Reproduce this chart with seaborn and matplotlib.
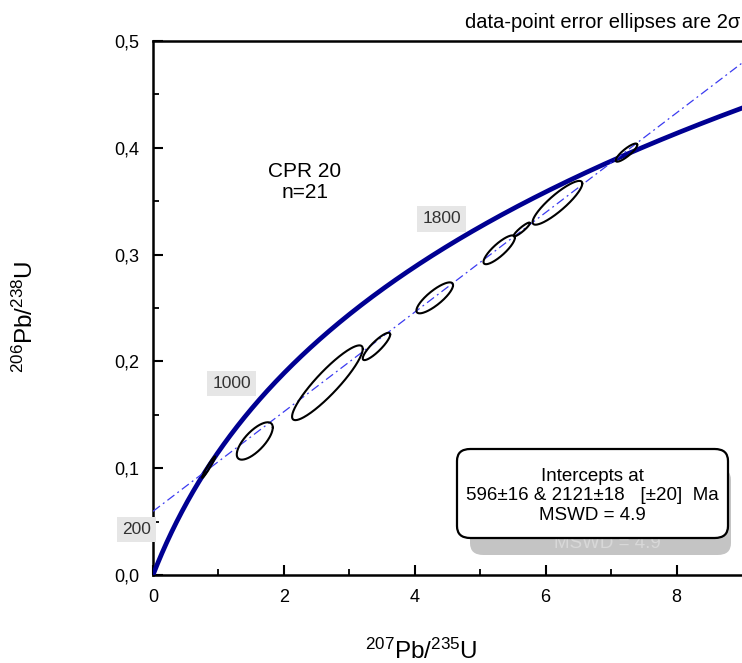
import numpy as np
import pandas as pd
import matplotlib
matplotlib.use("Agg")
import matplotlib.pyplot as plt
import seaborn as sns
from matplotlib.patches import FancyBboxPatch

# ---------------- data ----------------
# analyses: 207Pb/235U, 2s error, 206Pb/238U, 2s error, error correlation
x207 = [0.85, 1.555, 2.665, 3.415, 4.305, 5.29, 5.635, 6.18, 7.235]
ex207 = [0.10, 0.275, 0.54, 0.21, 0.28, 0.24, 0.125, 0.38, 0.165]
y206 = [0.101, 0.1255, 0.180, 0.214, 0.2595, 0.3045, 0.3235, 0.3485, 0.3955]
ey206 = [0.010, 0.0175, 0.035, 0.0128, 0.0145, 0.0135, 0.0065, 0.0205, 0.0085]
rho = [0.97, 0.72, 0.905, 0.875, 0.82, 0.84, 0.92, 0.88, 0.86]

age_labels = [200, 1000, 1800]          # Ma, labelled on concordia
intercepts = [596, 2121]                # Ma, lower / upper intercept
lam238 = 1.55125e-10
lam235 = 9.8485e-10

xticks = [0, 2, 4, 6, 8]
xticklabels = ["0", "2", "4", "6", "8"]
yticks = [0.0, 0.1, 0.2, 0.3, 0.4, 0.5]
yticklabels = ["0,0", "0,1", "0,2", "0,3", "0,4", "0,5"]

sample_text = "CPR 20\nn=21"
box_text = "Intercepts at\n596±16 & 2121±18   [±20]  Ma\nMSWD = 4.9"
shadow_text = "MSWD = 4.9"
title_text = "data-point error ellipses are 2σ"

# ---------------- style ----------------
sns.set_theme(style="ticks")
plt.rcParams["font.family"] = ["Liberation Sans", "DejaVu Sans"]
plt.rcParams["mathtext.fontset"] = "custom"
plt.rcParams["mathtext.rm"] = "Liberation Sans"
plt.rcParams["mathtext.it"] = "Liberation Sans:italic"
plt.rcParams["text.color"] = "black"
plt.rcParams["xtick.color"] = "black"
plt.rcParams["ytick.color"] = "black"

W, H = 742, 663
fig = plt.figure(figsize=(W / 100, H / 100), dpi=100)
ax = fig.add_axes([153 / W, 88 / H, 1 - 153 / W, (575 - 41) / H])


def conc(t_ma):
    t = np.asarray(t_ma, dtype=float) * 1e6
    return np.exp(lam235 * t) - 1, np.exp(lam238 * t) - 1


# concordia curve
t_curve = np.linspace(0, 2500, 600)
cx, cy = conc(t_curve)
df_c = pd.DataFrame({"x": cx, "y": cy})
sns.lineplot(data=df_c, x="x", y="y", sort=False, estimator=None, ax=ax,
             color="#000092", lw=3.4, zorder=3)

# discordia line through the two intercepts
(ix, iy) = conc(intercepts)
slope = (iy[1] - iy[0]) / (ix[1] - ix[0])
xl = np.array([0.0, 9.5])
yl = iy[0] + slope * (xl - ix[0])
df_d = pd.DataFrame({"x": xl, "y": yl})
sns.lineplot(data=df_d, x="x", y="y", ax=ax, color="#3b3bf0", lw=0.9,
             zorder=4)
ax.lines[-1].set_dashes([7, 3, 1.5, 3])

# error ellipses
th = np.linspace(0, 2 * np.pi, 200)
rows = []
for i, (mx, sx, my, sy, r) in enumerate(zip(x207, ex207, y206, ey206, rho)):
    ex = mx + sx * np.cos(th)
    ey = my + sy * (r * np.cos(th) + np.sqrt(1 - r * r) * np.sin(th))
    rows.append(pd.DataFrame({"x": ex, "y": ey, "id": i}))
df_e = pd.concat(rows)
sns.lineplot(data=df_e, x="x", y="y", units="id", estimator=None, sort=False,
             ax=ax, color="black", lw=1.5, zorder=5)

# age labels on concordia
ax_, ay_ = conc(age_labels)
for a, px, py in zip(age_labels, ax_, ay_):
    ax.annotate(str(a), xy=(px, py), xytext=(-31, 12),
                textcoords="offset pixels", ha="center", va="center",
                fontsize=12.5, color="#333333", annotation_clip=False,
                bbox=dict(boxstyle="square,pad=0.3", fc="#e6e6e6", ec="none"),
                zorder=6)

# axes
ax.set_xlim(0, 9.0)
ax.set_ylim(0, 0.5)
ax.set_xticks(xticks)
ax.set_xticklabels(xticklabels)
ax.set_yticks(yticks)
ax.set_yticklabels(yticklabels)
ax.set_xticks([1, 3, 5, 7], minor=True)
ax.set_yticks([0.05, 0.15, 0.25, 0.35, 0.45], minor=True)
ax.tick_params(which="major", direction="in", length=7, width=1.5,
               labelsize=13, pad=10, colors="black")
ax.tick_params(which="minor", direction="in", length=4, width=1.3)
for s in ["left", "bottom", "top"]:
    ax.spines[s].set_linewidth(1.8)
    ax.spines[s].set_color("black")
ax.spines["right"].set_visible(False)
ax.set_xlabel("")
ax.set_ylabel("")

fig.text(421 / W, 1 - 651 / H, r"$^{207}$Pb/$^{235}$U", ha="center",
         va="center", fontsize=17.5)
fig.text(25 / W, 1 - 317 / H, r"$^{206}$Pb/$^{238}$U", ha="center",
         va="center", fontsize=17.5, rotation=90)
fig.text(740 / W, 1 - 22 / H, title_text, ha="right", va="center",
         fontsize=14.5)

ax.text(2.32, 0.368, sample_text, ha="center", va="center",
        fontsize=15, linespacing=1.1)


# intercept box with shadow (pixel coordinates)
def fig_box(x0, y0, x1, y1, **kw):
    p = FancyBboxPatch((x0 / W, 1 - y1 / H), (x1 - x0) / W, (y1 - y0) / H,
                       boxstyle="round,pad=0,rounding_size=0.018",
                       transform=fig.transFigure, **kw)
    fig.add_artist(p)


fig_box(470, 468, 731, 555, fc="#c4c4c4", ec="none", zorder=7)
fig.text(607 / W, 1 - 543 / H, shadow_text, ha="center", va="center",
         fontsize=13.5, color="#d8d8d8", zorder=7.5)
fig_box(457, 449, 728, 538, fc="white", ec="black", lw=1.6, zorder=8)
fig.text(592 / W, 1 - 496 / H, box_text, ha="center", va="center",
         fontsize=13.5, linespacing=1.2, zorder=9)

fig.savefig("out.png", dpi=100)
